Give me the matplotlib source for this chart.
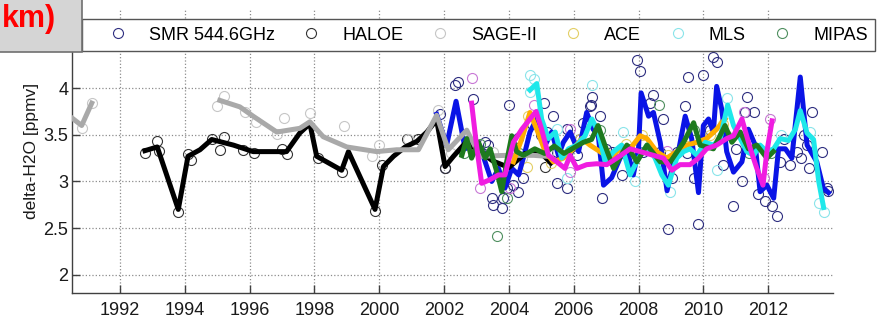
import numpy as np
import matplotlib.pyplot as plt
from matplotlib.patches import Rectangle
from matplotlib.ticker import FormatStrFormatter

plt.rcParams['font.family'] = ['Liberation Sans', 'DejaVu Sans']

# ---- individual measurements (open circles) ----
smr_x = [2001.88, 2002.03, 2002.34, 2002.44, 2002.90, 2003.11, 2003.27, 2003.37, 2003.47, 2003.52,
         2003.78, 2003.83, 2003.93, 2003.99, 2004.14, 2004.29, 2004.29, 2004.45, 2005.07, 2005.17,
         2005.37, 2005.47, 2005.48, 2005.79, 2005.79, 2006.10, 2006.30, 2006.51, 2006.56, 2006.81,
         2006.87, 2007.17, 2007.33, 2007.48, 2007.74, 2007.95, 2008.05, 2008.15, 2008.36, 2008.46,
         2008.67, 2008.77, 2008.92, 2009.03, 2009.18, 2009.44, 2009.54, 2009.70, 2009.85, 2010.00,
         2010.31, 2010.41, 2010.62, 2010.93, 2011.19, 2011.28, 2011.34, 2011.55, 2011.70, 2011.91,
         2012.11, 2012.27, 2012.37, 2012.68, 2012.88, 2013.00, 2013.20, 2013.25, 2013.35, 2013.66,
         2013.81, 2013.86, 2006.20, 2007.00, 2009.50, 2010.20, 2012.50, 2013.10, 2011.00, 2005.00,
         2004.70, 2006.53]
smr_y = [3.72, 3.14, 4.04, 4.07, 3.88, 3.32, 3.42, 3.39, 2.82, 2.75,
         2.72, 2.82, 2.93, 3.82, 2.96, 2.89, 3.47, 3.04, 3.84, 3.53,
         3.70, 2.98, 3.32, 2.93, 3.56, 3.28, 3.63, 3.81, 3.91, 3.70,
         2.82, 3.32, 3.32, 3.07, 3.25, 4.30, 4.19, 3.32, 3.84, 3.93,
         3.32, 3.67, 2.49, 3.04, 3.32, 3.81, 4.12, 3.04, 2.54, 4.14,
         4.34, 4.28, 3.18, 2.74, 3.00, 3.74, 3.91, 3.74, 2.86, 2.79,
         2.74, 2.63, 3.21, 3.18, 3.32, 3.25, 3.39, 3.14, 3.75, 3.32,
         2.93, 2.90, 3.45, 3.35, 3.30, 3.55, 3.45, 3.50, 3.35, 3.50,
         3.62, 3.82]

haloe_x = [1992.77, 1993.15, 1993.20, 1993.80, 1994.10, 1994.20, 1994.83, 1995.20, 1995.10, 1995.80,
           1996.14, 1997.00, 1997.15, 1998.12, 1998.84, 1999.87, 2000.10, 2000.85, 2001.20, 2002.03,
           2002.70, 2005.12]
haloe_y = [3.31, 3.43, 3.33, 2.67, 3.29, 3.23, 3.45, 3.48, 3.34, 3.34,
           3.30, 3.35, 3.29, 3.25, 3.10, 2.68, 3.18, 3.46, 3.46, 3.14,
           3.40, 3.16]

sage_x = [1990.83, 1991.15, 1995.20, 1995.00, 1995.85, 1996.20, 1996.85, 1997.05, 1997.86, 1998.90,
          1999.77, 2000.00, 2000.90, 2001.80, 2002.20, 2003.50, 2004.40, 2005.20]
sage_y = [3.57, 3.84, 3.92, 3.81, 3.74, 3.64, 3.51, 3.68, 3.73, 3.60,
          3.27, 3.39, 3.46, 3.77, 3.30, 3.32, 3.25, 3.30]

ace_x = [2004.55, 2004.60, 2005.30, 2006.20, 2007.00, 2007.60, 2008.10, 2008.90, 2009.50, 2010.20,
         2010.60]
ace_y = [3.16, 3.70, 3.20, 3.45, 3.30, 3.40, 3.50, 3.28, 3.38, 3.50,
         3.62]

mls_x = [2004.65, 2004.76, 2004.65, 2005.48, 2005.79, 2006.56, 2007.53, 2007.90, 2008.98, 2010.41,
         2010.72, 2012.40, 2013.30, 2013.56, 2013.71]
mls_y = [4.14, 4.10, 3.96, 3.56, 3.04, 4.04, 3.53, 3.00, 2.89, 3.12,
         3.89, 3.50, 3.53, 2.77, 2.67]

mipas_x = [2002.60, 2003.10, 2003.63, 2003.93, 2004.30, 2006.80, 2007.70, 2008.62, 2009.70, 2010.70,
           2011.40, 2012.10]
mipas_y = [3.30, 3.40, 2.41, 2.82, 3.30, 3.55, 3.35, 3.82, 3.55, 3.50,
           3.30, 3.30]

extra_x = [2002.86, 2003.11, 2004.04, 2004.76, 2005.89, 2005.89, 2008.87, 2011.24, 2011.86, 2012.06]
extra_y = [4.11, 2.93, 2.93, 3.82, 3.56, 3.10, 3.33, 3.75, 3.04, 3.67]

# ---- smoothed series (thick lines) ----
smr_lx = [2001.77, 2002.08, 2002.37, 2002.65, 2002.90, 2003.20, 2003.47, 2003.68, 2003.88, 2004.09,
          2004.30, 2004.50, 2004.65, 2004.86, 2005.12, 2005.32, 2005.53, 2005.68, 2005.89, 2006.15,
          2006.40, 2006.60, 2006.76, 2006.92, 2007.17, 2007.43, 2007.64, 2007.84, 2008.00, 2008.08,
          2008.31, 2008.46, 2008.67, 2008.88, 2009.08, 2009.23, 2009.44, 2009.64, 2009.85, 2010.00,
          2010.16, 2010.31, 2010.41, 2010.57, 2010.72, 2010.93, 2011.19, 2011.39, 2011.60, 2011.75,
          2011.96, 2012.17, 2012.32, 2012.53, 2012.73, 2012.99, 2013.20, 2013.50, 2013.70, 2013.86]
smr_ly = [3.72, 3.39, 3.86, 3.35, 3.42, 3.28, 3.00, 3.14, 2.93, 3.14,
          3.07, 3.32, 3.53, 3.67, 3.39, 3.53, 3.28, 3.42, 3.53, 3.32,
          3.74, 3.56, 3.49, 2.96, 3.04, 3.25, 3.35, 3.07, 3.35, 3.95,
          3.70, 3.74, 3.42, 2.90, 3.21, 3.32, 3.70, 3.46, 2.88, 3.60,
          3.67, 3.53, 4.02, 3.77, 3.32, 3.10, 3.21, 3.56, 3.39, 2.89,
          2.96, 2.82, 3.35, 3.35, 3.25, 4.12, 3.39, 3.21, 2.93, 2.88]

haloe_lx = [1992.77, 1993.15, 1993.80, 1994.10, 1994.47, 1994.83, 1995.50, 1996.11, 1997.14, 1997.55,
            1997.86, 1998.07, 1998.84, 1999.05, 1999.87, 2000.13, 2000.44, 2000.80, 2001.16, 2001.47,
            2001.77, 2002.03, 2002.29, 2002.65, 2003.00, 2003.50, 2004.00, 2004.50, 2005.00, 2005.30]
haloe_ly = [3.33, 3.37, 2.70, 3.27, 3.34, 3.45, 3.39, 3.32, 3.32, 3.52,
            3.62, 3.27, 3.12, 3.32, 2.70, 3.16, 3.27, 3.37, 3.43, 3.53,
            3.66, 3.16, 3.27, 3.41, 3.35, 3.22, 3.15, 3.30, 3.30, 3.20]

sage_lx = [1990.30, 1990.82, 1991.13, 1993.00, 1995.08, 1995.70, 1996.11, 1996.84, 1997.55, 1997.86,
           1998.27, 1999.00, 1999.92, 2000.54, 2001.21, 2001.77, 2002.13, 2002.70, 2003.11, 2003.93,
           2004.76, 2005.17]
sage_ly = [3.74, 3.60, 3.84, np.nan, 3.87, 3.80, 3.70, 3.53, 3.57, 3.64,
           3.48, 3.37, 3.32, 3.34, 3.34, 3.71, 3.34, 3.55, 3.27, 3.28,
           3.28, 3.27]

ace_lx = [2004.14, 2004.40, 2004.65, 2004.86, 2005.12, 2005.37, 2005.68, 2005.99, 2006.25, 2006.50,
          2006.81, 2007.12, 2007.43, 2007.74, 2008.05, 2008.26, 2008.56, 2008.87, 2009.18, 2009.49,
          2009.80, 2010.10, 2010.41, 2010.67]
ace_ly = [3.21, 3.46, 3.74, 3.56, 3.32, 3.21, 3.25, 3.35, 3.46, 3.39,
          3.32, 3.25, 3.35, 3.35, 3.49, 3.46, 3.32, 3.25, 3.32, 3.39,
          3.42, 3.46, 3.56, 3.67]

mls_lx = [2004.65, 2004.86, 2005.01, 2005.22, 2005.43, 2005.63, 2005.84, 2006.10, 2006.35, 2006.56,
          2006.76, 2006.97, 2007.23, 2007.48, 2007.74, 2008.00, 2008.26, 2008.51, 2008.72, 2008.92,
          2009.18, 2009.39, 2009.59, 2009.80, 2010.06, 2010.31, 2010.52, 2010.75, 2010.93, 2011.14,
          2011.34, 2011.55, 2011.75, 2011.96, 2012.17, 2012.37, 2012.63, 2012.84, 2012.99, 2013.20,
          2013.40, 2013.56, 2013.71]
mls_ly = [3.98, 4.05, 3.67, 3.46, 3.53, 3.25, 3.35, 3.39, 3.49, 3.67,
          3.53, 3.21, 3.32, 3.39, 3.07, 3.25, 3.39, 3.25, 3.07, 2.96,
          3.25, 3.32, 3.35, 3.28, 3.42, 3.39, 3.46, 3.82, 3.60, 3.46,
          3.32, 3.28, 3.39, 3.32, 3.35, 3.46, 3.44, 3.56, 3.76, 3.52,
          3.45, 3.00, 2.72]

mipas_lx = [2002.55, 2002.70, 2002.85, 2003.06, 2003.27, 2003.42, 2003.63, 2003.78, 2003.93, 2004.09,
            2004.24, 2004.45, 2004.80, 2005.10, 2005.40, 2005.70, 2006.00, 2006.30, 2006.55, 2006.75,
            2006.95, 2007.23, 2007.64, 2007.95, 2008.26, 2008.67, 2008.98, 2009.39, 2009.70, 2009.90,
            2010.31, 2010.67, 2010.88, 2011.14, 2011.39, 2011.65, 2011.96, 2012.16]
mipas_ly = [3.28, 3.46, 3.25, 3.42, 3.25, 3.35, 3.10, 2.89, 3.21, 3.49,
            3.32, 3.28, 3.35, 3.30, 3.38, 3.30, 3.36, 3.42, 3.45, 3.60,
            3.40, 3.14, 3.39, 3.21, 3.39, 3.21, 3.21, 3.42, 3.63, 3.39,
            3.35, 3.60, 3.42, 3.53, 3.35, 3.39, 3.25, 3.32]

extra_lx = [2002.85, 2003.00, 2003.16, 2003.42, 2003.68, 2003.88, 2004.14, 2004.40, 2004.65, 2004.84,
            2005.01, 2005.22, 2005.48, 2005.73, 2005.89, 2006.10, 2006.40, 2006.71, 2007.02, 2007.33,
            2007.74, 2008.05, 2008.46, 2008.77, 2009.03, 2009.28, 2009.59, 2009.85, 2010.10, 2010.41,
            2010.72, 2010.93, 2011.19, 2011.45, 2011.65, 2011.84, 2011.96, 2012.12]
extra_ly = [3.84, 3.39, 2.98, 3.02, 3.07, 3.07, 3.42, 3.56, 3.67, 3.75,
            3.56, 3.28, 3.21, 3.14, 3.28, 3.14, 3.18, 3.19, 3.18, 3.25,
            3.35, 3.32, 3.28, 3.25, 3.12, 3.18, 3.18, 3.25, 3.35, 3.39,
            3.46, 3.49, 3.67, 3.35, 3.14, 2.96, 3.32, 3.65]

year_ticks = list(range(1992, 2013, 2))
ppmv_ticks = [2, 2.5, 3, 3.5, 4, 4.5]

W, H = 877, 321
fig = plt.figure(figsize=(W / 100, H / 100), dpi=100)
ax = fig.add_axes([72.3 / W, (H - 293.3) / H, (833 - 72.3) / W, (293.3 - 9) / H])

circles = [
    (smr_x, smr_y, '#2e2e80', 'SMR 544.6GHz'),
    (haloe_x, haloe_y, '#333333', 'HALOE'),
    (sage_x, sage_y, '#c6c6c6', 'SAGE-II'),
    (ace_x, ace_y, '#e3cf66', 'ACE'),
    (mls_x, mls_y, '#8ae4ea', 'MLS'),
    (mipas_x, mipas_y, '#4f8f5f', 'MIPAS'),
    (extra_x, extra_y, '#c878d6', '_nolegend_'),
]
for x, y, c, lab in circles:
    ax.plot(x, y, linestyle='none', marker='o', ms=7.2, mfc='none', mec=c, mew=0.8,
            label=lab, zorder=2)

lines = [
    (smr_lx, smr_ly, '#0a14e6'),
    (haloe_lx, haloe_ly, '#000000'),
    (sage_lx, sage_ly, '#a9a9a9'),
    (ace_lx, ace_ly, '#ffad00'),
    (mls_lx, mls_ly, '#1ee8ea'),
    (mipas_lx, mipas_ly, '#1e7a1e'),
    (extra_lx, extra_ly, '#f01ce0'),
]
for x, y, c in lines:
    ax.plot(x, y, color=c, lw=3.6, zorder=3)

ax.set_xlim(1990.53, 2014.0)
ax.set_ylim(1.8, 4.85)
ax.set_xticks(year_ticks)
ax.set_yticks(ppmv_ticks)
ax.yaxis.set_major_formatter(FormatStrFormatter('%g'))
ax.grid(True, linestyle=':', color='#8c8c8c', linewidth=0.9)
ax.set_axisbelow(True)
for side in ['top', 'right']:
    ax.spines[side].set_visible(False)
for side in ['left', 'bottom']:
    ax.spines[side].set_color('#404040')
    ax.spines[side].set_linewidth(1.0)
ax.tick_params(direction='in', length=6, width=1, color='#404040',
               labelsize=13, labelcolor='#1a1a1a')
ax.tick_params(axis='x', pad=6.5)
ax.tick_params(axis='y', pad=3)
ax.set_ylabel('delta-H2O [ppmv]', fontsize=12.5, labelpad=3, color='#1a1a1a')

leg = fig.legend(loc='upper left', bbox_to_anchor=(81.7 / W, 1 - 19.3 / H), ncol=6,
                 frameon=True, fancybox=False, edgecolor='#555555', framealpha=1,
                 borderpad=0.4, handlelength=3.2, handletextpad=0.12, columnspacing=0.42,
                 numpoints=1, fontsize=13, borderaxespad=0)
leg.get_frame().set_linewidth(1.0)

# panel title box in the upper left corner
fig.add_artist(Rectangle((-0.01, 1 - 51.7 / H), (81.5 + 9) / W, 51.7 / H + 0.02,
                         transform=fig.transFigure, facecolor='#d5d5d5',
                         edgecolor='#707070', lw=1.2, zorder=10))
fig.text(1.5 / W, 1 - 26.5 / H, 'km)', color='#ff0000', fontweight='bold', fontsize=22,
         ha='left', va='baseline', zorder=11)

fig.savefig('out.png', dpi=100)
